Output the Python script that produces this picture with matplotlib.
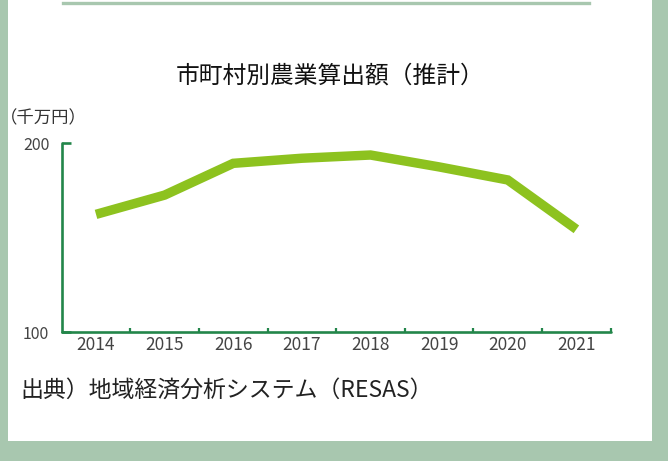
import matplotlib
matplotlib.use("Agg")
import matplotlib.pyplot as plt
from matplotlib.patches import Rectangle
from matplotlib.lines import Line2D

plt.rcParams['font.family'] = ['Noto Sans CJK JP', 'DejaVu Sans']

# data
years = ['2014', '2015', '2016', '2017', '2018', '2019', '2020', '2021']
values = [162.4, 172.6, 189.4, 192.1, 193.8, 187.5, 180.6, 154.5]

title = '市町村別農業算出額（推計）'
unit = '（千万円）'
source = '出典）地域経済分析システム（RESAS）'

border = '#a8c7af'
axis_green = '#23864a'
line_green = '#8dc21f'

W, H = 668, 461
fig = plt.figure(figsize=(W / 100, H / 100), dpi=100, facecolor=border)

# white panel + top rule
fig.patches.append(Rectangle((8 / W, (H - 441) / H), (652 - 8) / W, 441 / H,
                             transform=fig.transFigure, facecolor='white',
                             edgecolor='none', zorder=-2))
fig.lines.append(Line2D([63 / W, 589 / W], [1 - 3 / H, 1 - 3 / H],
                        transform=fig.transFigure, color=border, lw=2.4,
                        zorder=-1))

ax = fig.add_axes([61.7 / W, 1 - 332.3 / H, (610.7 - 61.7) / W, (332.3 - 143.3) / H])
ax.set_facecolor('none')
ax.set_zorder(1)

x = list(range(len(years)))
ax.plot(x, values, color=line_green, lw=6.8, solid_capstyle='butt',
        solid_joinstyle='miter', zorder=3)

ax.set_xlim(-0.5, len(years) - 0.5)
ax.set_ylim(100, 200)

for s in ['top', 'right']:
    ax.spines[s].set_visible(False)
for s in ['left', 'bottom']:
    ax.spines[s].set_color(axis_green)
    ax.spines[s].set_linewidth(1.9)
    ax.spines[s].set_capstyle('round')

ax.set_yticks([100, 200])
ax.set_yticklabels(['100', '200'])
ax.tick_params(axis='y', direction='in', length=6.5, width=1.9, color=axis_green,
               pad=9, labelsize=11.5, labelcolor='#444444')

ax.set_xticks(x)
ax.set_xticklabels(years)
ax.tick_params(axis='x', which='major', length=0, pad=3, labelsize=12.5,
               labelcolor='#444444')
ax.set_xticks([i + 0.5 for i in x], minor=True)
ax.tick_params(axis='x', which='minor', direction='in', length=3, width=1.6,
               color=axis_green)

fig.text(330 / W, 1 - 76 / H, title, ha='center', va='center', fontsize=17.1,
         color='#111111')
fig.text(0 / W, 1 - 118 / H, unit, ha='left', va='center', fontsize=12.5,
         color='#333333')
fig.text(20 / W, 1 - 390 / H, source, ha='left', va='center', fontsize=16.5,
         color='#222222')

fig.savefig('out.png', dpi=100, facecolor=border)
